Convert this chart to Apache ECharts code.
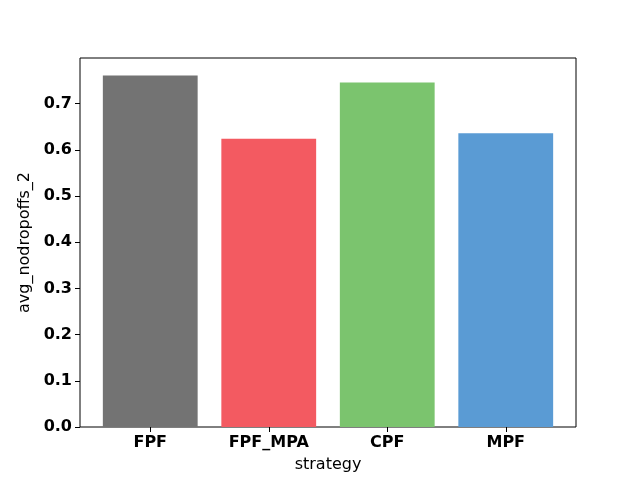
<!DOCTYPE html>
<html>
<head>
<meta charset="utf-8">
<script src="https://cdn.jsdelivr.net/npm/echarts@6/dist/echarts.min.js"></script>
<style>
    html, body { margin: 0; padding: 0; background: #fff; }
    #chart { width: 640px; height: 480px; }
</style>
</head>
<body>
<div id="chart"></div>
<script>
// 数据
const strategies = ['FPF', 'FPF_MPA', 'CPF', 'MPF']
const avgNoDropoffs = [0.761, 0.624, 0.746, 0.636]
const barColors = ['#737373', '#F35A61', '#7BC46E', '#5A9BD4']

const yMin = 0
const yMax = 0.799

let myChart = echarts.init(document.querySelector('#chart'))

const font = 'DejaVu Sans'

const option = {
    animation: false,
    grid: [
        // 外框 + y轴
        { left: 80, right: 64, top: 58, bottom: 53, show: true, borderColor: '#000', borderWidth: 1 },
        // 柱子所在的区域（模拟matplotlib的边距）
        { left: 91, right: 75, top: 58, bottom: 53 }
    ],
    xAxis: [
        { gridIndex: 0, type: 'value', show: false, min: 0, max: 1 },
        {
            gridIndex: 1,
            type: 'category',
            data: strategies,
            name: 'strategy',
            nameLocation: 'middle',
            nameGap: 30,
            nameTextStyle: { fontFamily: font, fontSize: 16, color: '#000' },
            axisLine: { show: false },
            axisTick: { show: true, alignWithLabel: true, length: 5, lineStyle: { color: '#000' } },
            axisLabel: { fontFamily: font, fontSize: 16, fontWeight: 'bold', color: '#000', margin: 8 }
        }
    ],
    yAxis: [
        {
            gridIndex: 0,
            type: 'value',
            min: yMin,
            max: yMax,
            interval: 0.1,
            name: 'avg_nodropoffs_2',
            nameLocation: 'middle',
            nameGap: 45,
            nameTextStyle: { fontFamily: font, fontSize: 16, color: '#000' },
            axisLine: { show: false },
            axisTick: { show: true, length: 5, lineStyle: { color: '#000' } },
            splitLine: { show: false },
            axisLabel: {
                fontFamily: font, fontSize: 16, fontWeight: 'bold', color: '#000', margin: 8,
                showMaxLabel: false,
                formatter: v => v.toFixed(1)
            }
        },
        { gridIndex: 1, type: 'value', show: false, min: yMin, max: yMax }
    ],
    series: [
        {
            type: 'bar',
            xAxisIndex: 1,
            yAxisIndex: 1,
            barCategoryGap: '20%',
            data: avgNoDropoffs.map((v, i) => ({ value: v, itemStyle: { color: barColors[i] } }))
        }
    ]
}

myChart.setOption(option)
</script>
</body>
</html>
